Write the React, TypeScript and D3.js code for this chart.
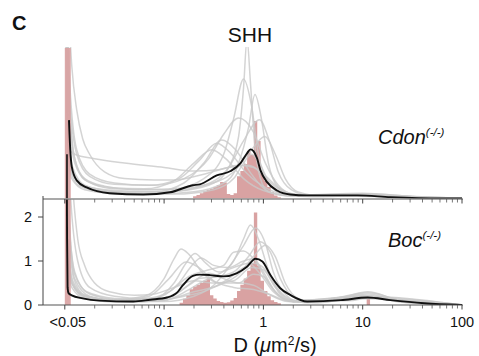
import React from "react";
import * as d3 from "d3";

// ---------- DATA (x values are log10 of D in µm²/s) ----------
const majorTicks = [-2, -1, 0, 1, 2];
const majorLabels = ["<0.05", "0.1", "1", "10", "100"];
const yTickValues = [0, 1, 2];

const binWidth = 0.034;
const lowBin = [-2.0, -1.94]; // the "<0.05" bin
const topLowBinHeight = 3.4;
const botLowBinHeight = 2.6;

const topBinStart = -0.708;
const topBins = [0.05, 0.08, 0.12, 0.16, 0.2, 0.22, 0.26, 0.3, 0.37, 0.36, 0.1, 0.08, 0.12, 0.5, 0.62, 0.78, 1.08, 0.98, 1.75, 1.3, 0.58, 0.4, 0.26, 0.14, 0.07, 0.03];

const botBinStart = -0.844;
const botBins = [0.05, 0.14, 0.22, 0.36, 0.42, 0.46, 0.5, 0.55, 0.6, 0.22, 0.15, 0.09, 0.07, 0.05, 0.06, 0.1, 0.16, 0.32, 0.46, 0.6, 0.78, 0.95, 2.1, 0.9, 0.55, 0.32, 0.2, 0.11, 0.07, 0.04];
const botExtraBin = [1.04, 0.2];

type Pt = [number, number];

const topGray: Pt[][] = [
  [[-1.995,6],[-1.97,1.4],[-1.93,0.55],[-1.85,0.28],[-1.6,0.15],[-1.2,0.12],[-0.8,0.18],[-0.5,0.35],[-0.35,0.7],[-0.25,1.4],[-0.2,2.5],[-0.165,3.6],[-0.13,2.6],[-0.09,1.3],[-0.03,0.45],[0.05,0.15],[0.3,0.05],[0.9,0.06],[1.5,0.02],[2,0]],
  [[-1.995,6],[-1.96,2.5],[-1.9,0.9],[-1.8,0.45],[-1.6,0.28],[-1.3,0.2],[-0.9,0.22],[-0.6,0.45],[-0.4,1.0],[-0.3,1.8],[-0.2,2.7],[-0.12,2.1],[-0.05,1.0],[0.05,0.35],[0.2,0.1],[0.5,0.05],[1.0,0.08],[1.5,0.03],[2,0]],
  [[-1.995,6],[-1.97,1.8],[-1.92,0.7],[-1.8,0.3],[-1.5,0.15],[-1.1,0.1],[-0.7,0.15],[-0.4,0.35],[-0.25,0.8],[-0.15,1.6],[-0.085,2.35],[-0.02,1.8],[0.05,0.8],[0.15,0.25],[0.3,0.08],[0.8,0.06],[1.3,0.04],[2,0]],
  [[-1.995,6],[-1.95,2.2],[-1.88,1.0],[-1.75,0.5],[-1.5,0.32],[-1.1,0.3],[-0.8,0.45],[-0.55,0.9],[-0.4,1.45],[-0.25,1.82],[-0.1,1.5],[0.02,0.8],[0.15,0.3],[0.3,0.1],[0.7,0.06],[1.1,0.1],[1.6,0.03],[2,0]],
  [[-1.995,6],[-1.97,1.6],[-1.92,0.6],[-1.82,0.3],[-1.5,0.18],[-1.0,0.15],[-0.6,0.3],[-0.35,0.7],[-0.2,1.3],[-0.04,1.78],[0.06,1.3],[0.15,0.6],[0.28,0.2],[0.45,0.08],[1.0,0.1],[1.5,0.03],[2,0]],
  [[-1.995,6],[-1.96,2],[-1.9,0.8],[-1.78,0.4],[-1.5,0.22],[-1.0,0.2],[-0.6,0.3],[-0.3,0.6],[-0.12,1.1],[0.015,1.4],[0.12,1.0],[0.22,0.45],[0.35,0.15],[0.6,0.06],[1.0,0.09],[1.5,0.03],[2,0]],
  [[-1.995,6],[-1.95,2.6],[-1.88,1.1],[-1.75,0.55],[-1.5,0.35],[-1.15,0.3],[-0.85,0.45],[-0.65,0.85],[-0.47,1.25],[-0.32,1.0],[-0.18,0.6],[-0.02,0.3],[0.2,0.1],[0.6,0.05],[1.1,0.08],[1.6,0.02],[2,0]],
  [[-1.995,6],[-1.97,1.5],[-1.92,0.55],[-1.8,0.25],[-1.5,0.15],[-1.1,0.15],[-0.8,0.35],[-0.6,0.8],[-0.42,1.32],[-0.28,1.1],[-0.12,0.55],[0.02,0.2],[0.2,0.08],[0.7,0.05],[1.1,0.07],[2,0]],
  [[-1.995,6],[-1.96,2.2],[-1.9,0.9],[-1.8,0.42],[-1.55,0.25],[-1.2,0.22],[-0.9,0.4],[-0.7,0.8],[-0.52,1.1],[-0.38,0.9],[-0.2,0.45],[0,0.18],[0.3,0.06],[1.0,0.07],[2,0]],
  [[-1.995,6],[-1.98,2.5],[-1.96,1.15],[-1.9,1.0],[-1.7,0.9],[-1.4,0.8],[-1.0,0.7],[-0.7,0.62],[-0.45,0.65],[-0.25,0.75],[-0.1,0.7],[0.05,0.4],[0.2,0.15],[0.4,0.06],[1.0,0.1],[1.5,0.03],[2,0]],
  [[-1.995,6],[-1.93,3.0],[-1.88,2.0],[-1.82,1.35],[-1.75,1.0],[-1.6,0.6],[-1.4,0.45],[-1.1,0.42],[-0.9,0.42],[-0.6,0.55],[-0.35,0.7],[-0.15,0.75],[0.0,0.55],[0.15,0.25],[0.35,0.08],[1.0,0.12],[1.5,0.04],[2,0]],
  [[-1.995,6],[-1.97,1.2],[-1.93,0.45],[-1.8,0.2],[-1.4,0.1],[-0.9,0.1],[-0.5,0.2],[-0.3,0.45],[-0.2,0.8],[-0.12,1.0],[-0.04,0.8],[0.06,0.35],[0.2,0.1],[0.5,0.04],[1.0,0.06],[2,0]],
];

const botGray: Pt[][] = [
  [[-1.995,6],[-1.97,1.5],[-1.93,0.5],[-1.8,0.2],[-1.5,0.12],[-1.2,0.2],[-1.0,0.6],[-0.9,1.05],[-0.83,1.27],[-0.75,1.15],[-0.62,0.75],[-0.45,0.5],[-0.25,0.5],[-0.1,0.45],[0.05,0.25],[0.25,0.08],[0.7,0.15],[1.05,0.28],[1.4,0.1],[2,0]],
  [[-1.995,6],[-1.96,2.2],[-1.9,0.7],[-1.75,0.25],[-1.45,0.12],[-1.1,0.15],[-0.9,0.5],[-0.78,0.95],[-0.69,1.17],[-0.58,0.95],[-0.45,0.75],[-0.3,0.85],[-0.15,0.95],[-0.03,0.7],[0.1,0.3],[0.3,0.08],[0.8,0.12],[1.05,0.2],[1.4,0.08],[2,0]],
  [[-1.995,6],[-1.97,1.6],[-1.92,0.55],[-1.8,0.22],[-1.5,0.1],[-1.1,0.15],[-0.85,0.5],[-0.72,0.9],[-0.63,1.07],[-0.5,0.9],[-0.35,0.85],[-0.2,1.0],[-0.1,1.05],[0.0,0.75],[0.12,0.3],[0.3,0.07],[1.0,0.2],[2,0]],
  [[-1.995,6],[-1.97,1.3],[-1.92,0.45],[-1.8,0.18],[-1.4,0.08],[-1.0,0.1],[-0.75,0.35],[-0.6,0.55],[-0.45,0.7],[-0.3,1.0],[-0.2,1.5],[-0.13,1.82],[-0.05,1.5],[0.05,0.8],[0.15,0.3],[0.3,0.08],[0.9,0.12],[1.05,0.18],[1.4,0.06],[2,0]],
  [[-1.995,6],[-1.96,1.9],[-1.9,0.6],[-1.75,0.2],[-1.4,0.08],[-1.0,0.08],[-0.7,0.2],[-0.5,0.45],[-0.35,0.85],[-0.2,1.35],[-0.08,1.75],[0.02,1.4],[0.1,0.75],[0.2,0.3],[0.35,0.08],[0.9,0.1],[1.1,0.2],[1.4,0.07],[2,0]],
  [[-1.995,6],[-1.97,1.4],[-1.93,0.5],[-1.8,0.2],[-1.4,0.1],[-1.0,0.12],[-0.7,0.3],[-0.45,0.45],[-0.25,0.7],[-0.1,1.1],[0.02,1.36],[0.12,1.1],[0.22,0.5],[0.35,0.15],[0.55,0.05],[1.0,0.2],[1.3,0.12],[2,0]],
  [[-1.995,6],[-1.96,2.0],[-1.9,0.75],[-1.78,0.3],[-1.5,0.15],[-1.1,0.12],[-0.85,0.3],[-0.65,0.6],[-0.45,0.65],[-0.3,0.75],[-0.15,1.1],[-0.03,1.44],[0.07,1.2],[0.17,0.6],[0.3,0.18],[0.5,0.06],[1.05,0.25],[1.4,0.08],[2,0]],
  [[-1.995,6],[-1.95,2.8],[-1.87,1.0],[-1.75,0.4],[-1.5,0.2],[-1.2,0.15],[-0.95,0.3],[-0.75,0.65],[-0.55,0.8],[-0.4,0.9],[-0.3,1.2],[-0.2,1.23],[-0.08,1.0],[0.05,0.5],[0.2,0.15],[0.4,0.06],[1.0,0.22],[1.4,0.08],[2,0]],
  [[-1.995,6],[-1.97,1.2],[-1.93,0.4],[-1.8,0.15],[-1.4,0.06],[-1.0,0.12],[-0.75,0.45],[-0.55,0.72],[-0.4,0.6],[-0.25,0.5],[-0.1,0.7],[0.0,0.65],[0.12,0.3],[0.3,0.08],[1.0,0.15],[2,0]],
  [[-1.995,6],[-1.93,3.0],[-1.87,1.5],[-1.8,0.9],[-1.7,0.5],[-1.55,0.3],[-1.3,0.22],[-1.1,0.25],[-0.9,0.4],[-0.7,0.55],[-0.5,0.5],[-0.3,0.55],[-0.12,0.85],[0.0,0.8],[0.12,0.4],[0.3,0.1],[1.0,0.18],[2,0]],
  [[-1.995,6],[-1.97,1.5],[-1.92,0.5],[-1.8,0.2],[-1.5,0.1],[-1.1,0.1],[-0.8,0.2],[-0.55,0.35],[-0.35,0.6],[-0.2,0.85],[-0.1,0.95],[0.0,0.85],[0.1,0.5],[0.25,0.15],[0.45,0.05],[1.05,0.15],[2,0]],
  [[-1.995,6],[-1.96,1.8],[-1.91,0.6],[-1.8,0.22],[-1.5,0.1],[-1.15,0.2],[-0.95,0.6],[-0.78,0.98],[-0.65,0.85],[-0.5,0.55],[-0.3,0.4],[-0.1,0.35],[0.05,0.25],[0.25,0.1],[0.8,0.18],[1.05,0.3],[1.35,0.12],[2,0]],
];

const topBlackStem: Pt[] = [[-1.978,0],[-1.978,1.0]];
const topBlack: Pt[] = [[-1.958,1.77],[-1.945,1.1],[-1.93,0.72],[-1.88,0.41],[-1.78,0.25],[-1.55,0.12],[-1.21,0.09],[-0.94,0.14],[-0.71,0.3],[-0.64,0.32],[-0.47,0.52],[-0.33,0.62],[-0.23,0.8],[-0.165,1.02],[-0.13,1.11],[-0.1,1.07],[-0.064,0.91],[-0.03,0.64],[0.037,0.37],[0.138,0.18],[0.27,0.09],[0.44,0.07],[0.95,0.07],[1.28,0.03],[1.79,0.0],[2.0,0]];
const botBlack: Pt[] = [[-1.98,3],[-1.977,1.5],[-1.972,0.4],[-1.962,0.27],[-1.93,0.22],[-1.82,0.15],[-1.65,0.1],[-1.31,0.08],[-1.14,0.12],[-0.97,0.17],[-0.87,0.28],[-0.81,0.45],[-0.71,0.66],[-0.64,0.69],[-0.54,0.68],[-0.4,0.65],[-0.27,0.72],[-0.165,0.87],[-0.08,1.05],[-0.01,0.99],[0.07,0.68],[0.17,0.38],[0.27,0.23],[0.44,0.08],[0.78,0.11],[1.05,0.17],[1.28,0.11],[1.62,0.04],[2.0,0.0]];

// ---------- STYLE ----------
const PINK = "#d9a2a2";
const GRAY = "#c9c9c9";
const FONT = "'Liberation Sans', Arial, Helvetica, sans-serif";

function stepPoints(start: number, heights: number[], w: number): Pt[] {
  const pts: Pt[] = heights.map((h, i) => [start + i * w, h] as Pt);
  pts.push([start + heights.length * w, heights[heights.length - 1]]);
  return pts;
}

export default function App() {
  const W = 479, H = 356;
  const x = d3.scaleLinear().domain([-2, 2]).range([64.8, 462]);
  const yTop = d3.scaleLinear().domain([0, 3.4]).range([198.5, 48]);
  const yBot = d3.scaleLinear().domain([0, 2.5]).range([305, 195]);

  const lineTop = d3.line<Pt>().x(d => x(d[0])).y(d => yTop(d[1])).curve(d3.curveMonotoneX);
  const lineBot = d3.line<Pt>().x(d => x(d[0])).y(d => yBot(d[1])).curve(d3.curveMonotoneX);
  const lineStraightTop = d3.line<Pt>().x(d => x(d[0])).y(d => yTop(d[1]));

  const histTop = d3.area<Pt>().x(d => x(d[0])).y0(yTop(0)).y1(d => yTop(d[1])).curve(d3.curveStepAfter);
  const histBot = d3.area<Pt>().x(d => x(d[0])).y0(yBot(0)).y1(d => yBot(d[1])).curve(d3.curveStepAfter);

  const minorTicks: number[] = [];
  for (let dec = -2; dec < 2; dec++) {
    for (let m = 2; m <= 9; m++) minorTicks.push(dec + Math.log10(m));
  }

  const axisLines = (yy: number) => (
    <g>
      <line x1={43} x2={463} y1={yy} y2={yy} stroke="#555" strokeWidth={1.2} />
      {minorTicks.map((t, i) => (
        <line key={"m" + i} x1={x(t)} x2={x(t)} y1={yy} y2={yy + 3.5} stroke="#555" strokeWidth={0.8} />
      ))}
      {majorTicks.map((t, i) => (
        <line key={"M" + i} x1={x(t)} x2={x(t)} y1={yy} y2={yy + 4.5} stroke="#444" strokeWidth={1} />
      ))}
    </g>
  );

  return (
    <svg width={W} height={H} style={{ position: "absolute", left: 0, top: 0, background: "#fff" }} fontFamily={FONT}>
      <defs>
        <clipPath id="clipTop"><rect x={55} y={47} width={420} height={151.5} /></clipPath>
        <clipPath id="clipBot"><rect x={55} y={199.5} width={420} height={105.5} /></clipPath>
      </defs>

      {/* Top panel */}
      <g clipPath="url(#clipTop)">
        <path d={histTop(stepPoints(topBinStart, topBins, binWidth)) || ""} fill={PINK} />
        {topGray.map((c, i) => (
          <path key={i} d={lineTop(c) || ""} fill="none" stroke={GRAY} strokeOpacity={0.8} strokeWidth={1.5} />
        ))}
        <rect x={x(lowBin[0])} width={x(lowBin[1]) - x(lowBin[0])} y={yTop(topLowBinHeight)} height={yTop(0) - yTop(topLowBinHeight)} fill={PINK} fillOpacity={0.92} />
        <path d={lineStraightTop(topBlackStem) || ""} stroke="#111" strokeWidth={1.6} fill="none" />
        <path d={lineTop(topBlack) || ""} fill="none" stroke="#111" strokeWidth={1.9} />
      </g>

      {/* Bottom panel */}
      <g clipPath="url(#clipBot)">
        <path d={histBot(stepPoints(botBinStart, botBins, binWidth)) || ""} fill={PINK} />
        <path d={histBot(stepPoints(botExtraBin[0], [botExtraBin[1]], binWidth)) || ""} fill={PINK} />
        {botGray.map((c, i) => (
          <path key={i} d={lineBot(c) || ""} fill="none" stroke={GRAY} strokeOpacity={0.8} strokeWidth={1.5} />
        ))}
        <rect x={x(lowBin[0])} width={x(lowBin[1]) - x(lowBin[0])} y={yBot(botLowBinHeight)} height={yBot(0) - yBot(botLowBinHeight)} fill={PINK} fillOpacity={0.92} />
        <path d={lineBot(botBlack) || ""} fill="none" stroke="#111" strokeWidth={1.9} />
      </g>

      {/* Axes */}
      {axisLines(199)}
      {axisLines(305)}
      <line x1={43} x2={43} y1={196} y2={305} stroke="#444" strokeWidth={1} />
      {yTickValues.map(v => (
        <g key={v}>
          <line x1={38} x2={43} y1={yBot(v)} y2={yBot(v)} stroke="#444" strokeWidth={1} />
          <text x={32} y={yBot(v)} dy="0.36em" textAnchor="end" fontSize={14.5} fill="#111">{v}</text>
        </g>
      ))}
      {majorTicks.map((t, i) => (
        <text key={i} x={x(t) + (i === 0 ? 3 : 0)} y={327} textAnchor="middle" fontSize={14.5} fill="#111">{majorLabels[i]}</text>
      ))}

      {/* Labels */}
      <text x={12} y={30} fontSize={20} fontWeight="bold" fill="#111">C</text>
      <text x={250} y={42} textAnchor="middle" fontSize={21} fill="#111">SHH</text>
      <text x={378} y={144} fontSize={20} fontStyle="italic" fill="#111">Cdon<tspan fontSize={11.5} dy={-8}>(-/-)</tspan></text>
      <text x={388} y={246.5} fontSize={20} fontStyle="italic" fill="#111">Boc<tspan fontSize={11.5} dy={-8}>(-/-)</tspan></text>
      <text x={275} y={352} textAnchor="middle" fontSize={20} fill="#111">
        D (<tspan fontStyle="italic">μ</tspan>m<tspan fontSize={12} dy={-7}>2</tspan><tspan dy={7}>/s)</tspan>
      </text>
    </svg>
  );
}
